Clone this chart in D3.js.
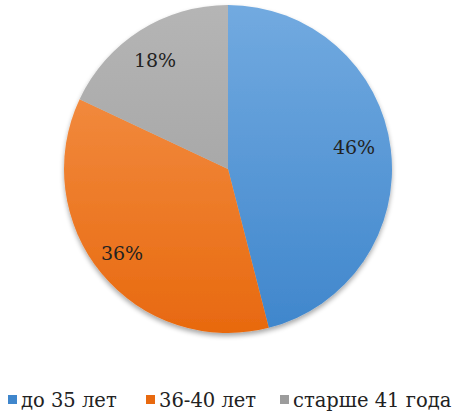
<!DOCTYPE html>
<html>
<head>
<meta charset="utf-8">
<script src="https://cdn.jsdelivr.net/npm/d3@7"></script>
<style>
  body { margin: 0; background: #fff; }
  text { font-family: "DejaVu Serif", "Liberation Serif", serif; fill: #222; }
</style>
</head>
<body>
<div id="main"></div>
<script>
// data
var categories = ["до 35 лет", "36-40 лет", "старше 41 года"];
var values = [46, 36, 18];
var colorsTop = ["#72aae0", "#f5964f", "#b5b5b5"];
var colorsBottom = ["#3f86cc", "#e8690f", "#9c9c9c"];
var legendX = [8, 146, 280];

var width = 459, height = 417;
var cx = 228, cy = 169, r = 164;

var svg = d3.select("#main").append("svg")
  .attr("width", width)
  .attr("height", height);

var defs = svg.append("defs");

// gradients top -> bottom, office style fill
categories.forEach(function(c, i) {
  var g = defs.append("linearGradient")
    .attr("id", "grad" + i)
    .attr("gradientUnits", "userSpaceOnUse")
    .attr("x1", 0).attr("y1", -r)
    .attr("x2", 0).attr("y2", r);
  g.append("stop").attr("offset", "0%").attr("stop-color", colorsTop[i]);
  g.append("stop").attr("offset", "100%").attr("stop-color", colorsBottom[i]);
});

var shadow = defs.append("filter").attr("id", "shadow")
  .attr("x", "-10%").attr("y", "-10%").attr("width", "120%").attr("height", "125%");
shadow.append("feGaussianBlur").attr("in", "SourceAlpha").attr("stdDeviation", 2.5);
shadow.append("feOffset").attr("dx", 0).attr("dy", 3).attr("result", "blur");
shadow.append("feComponentTransfer").append("feFuncA").attr("type", "linear").attr("slope", 0.35);
var merge = shadow.append("feMerge");
merge.append("feMergeNode");
merge.append("feMergeNode").attr("in", "SourceGraphic");

var pie = d3.pie().sort(null).value(function(d) { return d; });
var arcs = pie(values);

var arc = d3.arc().innerRadius(0).outerRadius(r);

var g = svg.append("g").attr("transform", "translate(" + cx + "," + cy + ")");

var slices = g.append("g").attr("filter", "url(#shadow)");
slices.selectAll("path")
  .data(arcs)
  .enter().append("path")
  .attr("d", arc)
  .attr("fill", function(d, i) { return "url(#grad" + i + ")"; });

// label spots, offset from centre
var labelPos = [[126, -22], [-106, 84], [-73, -109]];
g.selectAll("text.lbl")
  .data(arcs)
  .enter().append("text")
  .attr("class", "lbl")
  .attr("x", function(d, i) { return labelPos[i][0]; })
  .attr("y", function(d, i) { return labelPos[i][1]; })
  .attr("text-anchor", "middle")
  .attr("dominant-baseline", "central")
  .style("font-size", "19px")
  .text(function(d) { return d.value + "%"; });

// legend
var legend = svg.append("g");
categories.forEach(function(c, i) {
  legend.append("rect")
    .attr("x", legendX[i]).attr("y", 395)
    .attr("width", 9).attr("height", 9)
    .attr("fill", colorsBottom[i]);
  legend.append("text")
    .attr("x", legendX[i] + 13).attr("y", 407)
    .style("font-size", "19.5px")
    .text(c);
});
</script>
</body>
</html>
